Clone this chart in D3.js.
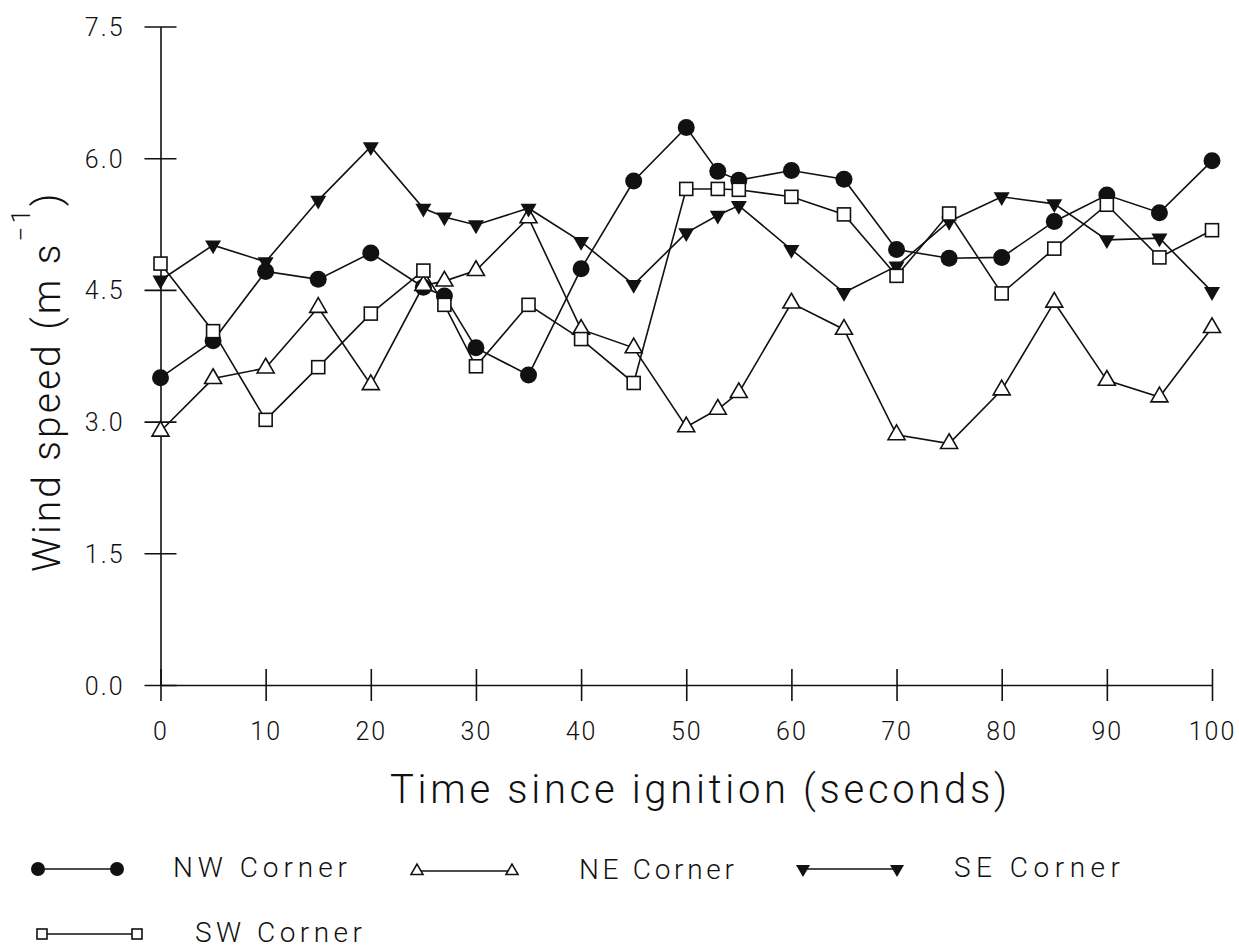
<!DOCTYPE html>
<html>
<head>
<meta charset="utf-8">
<script src="https://cdn.jsdelivr.net/npm/d3@7"></script>
<style>
  body { margin: 0; background: #fff; }
  svg { display: block; }
  text { font-family: "Roboto", "Liberation Sans", sans-serif; font-weight: 300; fill: #111; }
</style>
</head>
<body>
<div id="chart"></div>
<script>
// time since ignition (s)
const times = [0, 5, 10, 15, 20, 25, 27, 30, 35, 40, 45, 50, 53, 55, 60, 65, 70, 75, 80, 85, 90, 95, 100];

// wind speed (m/s) per corner
const nwCorner = [3.50, 3.92, 4.71, 4.62, 4.92, 4.53, 4.43, 3.84, 3.53, 4.74, 5.74, 6.35, 5.85, 5.75, 5.86, 5.76, 4.96, 4.86, 4.87, 5.28, 5.58, 5.38, 5.97];
const neCorner = [2.89, 3.49, 3.61, 4.30, 3.42, 4.55, 4.60, 4.72, 5.32, 4.05, 3.84, 2.94, 3.14, 3.33, 4.35, 4.05, 2.85, 2.75, 3.36, 4.36, 3.47, 3.28, 4.07];
const seCorner = [4.61, 5.01, 4.82, 5.52, 6.13, 5.43, 5.33, 5.24, 5.43, 5.05, 4.56, 5.15, 5.35, 5.46, 4.96, 4.47, 4.77, 5.28, 5.56, 5.48, 5.07, 5.09, 4.48];
const swCorner = [4.80, 4.03, 3.02, 3.62, 4.23, 4.72, 4.33, 3.63, 4.33, 3.94, 3.44, 5.65, 5.65, 5.64, 5.56, 5.36, 4.66, 5.37, 4.46, 4.97, 5.47, 4.87, 5.18];

const seriesNames = ["NW Corner", "NE Corner", "SE Corner", "SW Corner"];
const xTicks = [0, 10, 20, 30, 40, 50, 60, 70, 80, 90, 100];
const yTicks = [0, 1.5, 3.0, 4.5, 6.0, 7.5];

const width = 1239;
const height = 952;

const svg = d3.select("#chart")
  .append("svg")
  .attr("width", width)
  .attr("height", height);

const xScale = d3.scaleLinear().domain([0, 100]).range([160.5, 1212]);
const yScale = d3.scaleLinear().domain([0, 7.5]).range([685, 26.5]);

// axes - ticks cross the axis line
const xAxis = svg.append("g")
  .attr("transform", `translate(0, ${yScale(0)})`)
  .call(d3.axisBottom(xScale).tickValues(xTicks).tickSizeOuter(0).tickFormat(d3.format("d")));
xAxis.select(".domain").attr("stroke", "#111").attr("stroke-width", 1.6);
xAxis.selectAll(".tick line").attr("y1", -16).attr("y2", 16).attr("stroke", "#111").attr("stroke-width", 1.6);
xAxis.selectAll(".tick text")
  .attr("y", 55).attr("dy", null)
  .style("font-size", "25px").style("letter-spacing", "2px");

const yAxis = svg.append("g")
  .attr("transform", `translate(${xScale(0)}, 0)`)
  .call(d3.axisLeft(yScale).tickValues(yTicks).tickSizeOuter(0).tickFormat(d3.format(".1f")));
yAxis.select(".domain").attr("stroke", "#111").attr("stroke-width", 1.6);
yAxis.selectAll(".tick line").attr("x1", -16).attr("x2", 16).attr("stroke", "#111").attr("stroke-width", 1.6);
yAxis.selectAll(".tick text")
  .attr("x", -36).attr("dy", "0.36em")
  .style("font-size", "25px").style("letter-spacing", "2px");

// axis titles
svg.append("text")
  .attr("x", 390)
  .attr("y", 803)
  .attr("textLength", 617)
  .attr("lengthAdjust", "spacing")
  .style("font-size", "40px")
  .text("Time since ignition (seconds)");

const yTitle = svg.append("text")
  .attr("transform", "translate(60, 572) rotate(-90)")
  .style("font-size", "39px")
  .style("letter-spacing", "3px");
yTitle.append("tspan").text("Wind speed (m s");
yTitle.append("tspan").attr("dy", -30).style("font-size", "26px").text("\u22121");
yTitle.append("tspan").attr("dy", 30).text(")");

// markers
const drawMarker = (sel, type, size) => {
  if (type === "circle") {
    sel.append("circle").attr("r", size).attr("fill", "#111");
  } else if (type === "triUp") {
    sel.append("path")
      .attr("d", d3.symbol(d3.symbolTriangle, size * size * 0.433)())
      .attr("fill", "#fff").attr("stroke", "#111").attr("stroke-width", 1.6);
  } else if (type === "triDown") {
    sel.append("path")
      .attr("transform", "rotate(180)")
      .attr("d", d3.symbol(d3.symbolTriangle, size * size * 0.433)())
      .attr("fill", "#111");
  } else {
    sel.append("rect")
      .attr("x", -size / 2).attr("y", -size / 2)
      .attr("width", size).attr("height", size)
      .attr("fill", "#fff").attr("stroke", "#111").attr("stroke-width", 1.6);
  }
};

const series = [
  { name: seriesNames[0], values: nwCorner, marker: "circle", size: 8.5, legSize: 7 },
  { name: seriesNames[1], values: neCorner, marker: "triUp", size: 17, legSize: 12 },
  { name: seriesNames[2], values: seCorner, marker: "triDown", size: 16, legSize: 14 },
  { name: seriesNames[3], values: swCorner, marker: "square", size: 13, legSize: 10 }
];

const lineGenerator = d3.line()
  .x((d, i) => xScale(times[i]))
  .y(d => yScale(d));

// lines first, then markers on top
series.forEach(s => {
  svg.append("path")
    .datum(s.values)
    .attr("d", lineGenerator)
    .attr("fill", "none")
    .attr("stroke", "#111")
    .attr("stroke-width", 1.6);
});

series.forEach(s => {
  s.values.forEach((v, i) => {
    const g = svg.append("g").attr("transform", `translate(${xScale(times[i])}, ${yScale(v)})`);
    drawMarker(g, s.marker, s.size);
  });
});

// legend
const legendItems = [
  { x1: 38, x2: 117, y: 869, tx: 173, tl: 174 },
  { x1: 417, x2: 512, y: 871, tx: 579, tl: 155 },
  { x1: 803, x2: 897, y: 869, tx: 954, tl: 166 },
  { x1: 42, x2: 137, y: 934, tx: 195, tl: 167 }
];

series.forEach((s, i) => {
  const l = legendItems[i];
  const g = svg.append("g");
  g.append("line")
    .attr("x1", l.x1).attr("x2", l.x2)
    .attr("y1", l.y).attr("y2", l.y)
    .attr("stroke", "#111").attr("stroke-width", 1.5);
  [l.x1, l.x2].forEach(mx => {
    drawMarker(g.append("g").attr("transform", `translate(${mx}, ${l.y})`), s.marker, s.legSize);
  });
  g.append("text")
    .attr("x", l.tx)
    .attr("y", l.y + 8)
    .attr("textLength", l.tl)
    .attr("lengthAdjust", "spacing")
    .style("font-size", "28px")
    .text(s.name);
});
</script>
</body>
</html>
